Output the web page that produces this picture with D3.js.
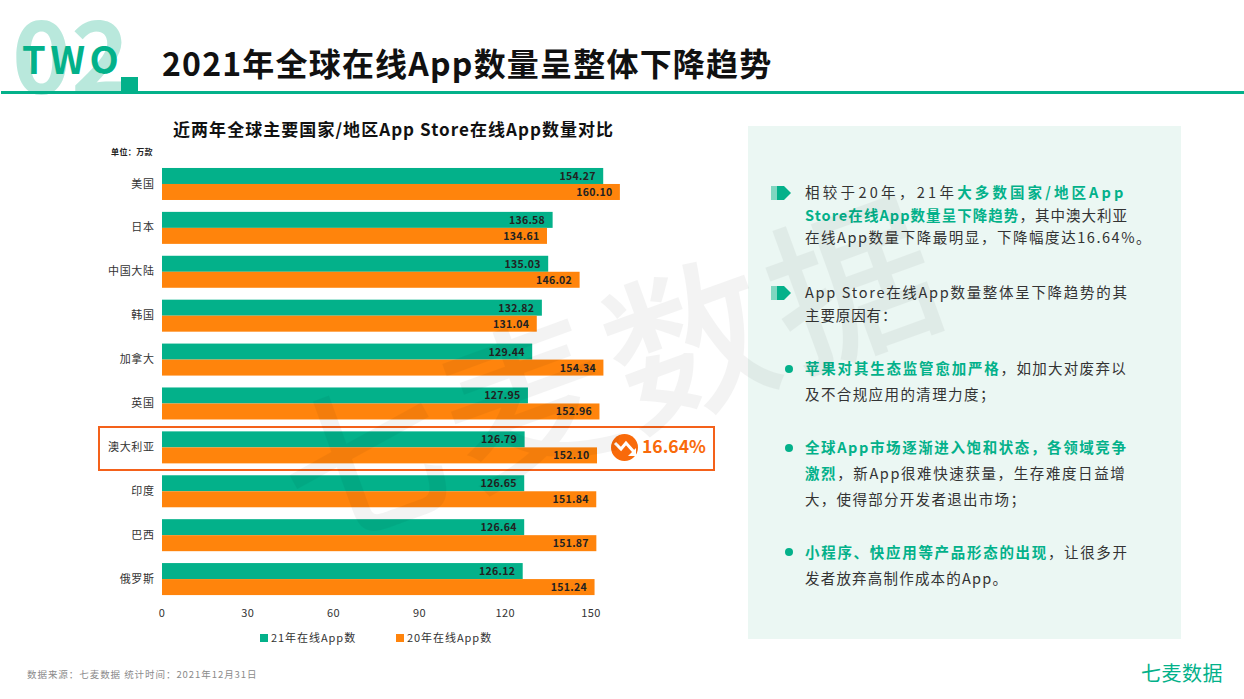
<!DOCTYPE html>
<html><head><meta charset="utf-8">
<script src="https://cdn.jsdelivr.net/npm/d3@7/dist/d3.min.js"></script>
<style>
html,body{margin:0;padding:0;background:#fff;overflow:hidden}
svg{display:block}
text{font-family:"Noto Sans CJK SC","Noto Sans",sans-serif}
</style></head><body>
<svg id="c" width="1244" height="699" xmlns="http://www.w3.org/2000/svg"></svg>
<script>
const categories=["美国","日本","中国大陆","韩国","加拿大","英国","澳大利亚","印度","巴西","俄罗斯"];
const values21=[154.27,136.58,135.03,132.82,129.44,127.95,126.79,126.65,126.64,126.12];
const values20=[160.10,134.61,146.02,131.04,154.34,152.96,152.10,151.84,151.87,151.24];
const xTicks=[0,30,60,90,120,150];
const seriesNames=["21年在线App数","20年在线App数"];
const GREEN="#03b18a",ORANGE="#ff840c",RED="#f4611a";
const svg=d3.select("#c");
const T=(x,y,s,size,fill,weight,ls,anchor)=>svg.append("text").attr("x",x).attr("y",y).text(s)
  .attr("font-size",size).attr("fill",fill).attr("font-weight",weight||400)
  .attr("letter-spacing",ls||0).attr("text-anchor",anchor||"start");

// panel
svg.append("rect").attr("x",748).attr("y",126).attr("width",433).attr("height",513).attr("fill","#ebf7f3");

// header
T(12,94,"02",100,"#b9e8dc",700,0);
T(22,74,"TWO",38,GREEN,700,4.5);
svg.append("rect").attr("x",1).attr("y",91).attr("width",1243).attr("height",3).attr("fill",GREEN);
svg.append("rect").attr("x",121).attr("y",77).attr("width",17).attr("height",15).attr("fill",GREEN);
T(162,76,"2021年全球在线App数量呈整体下降趋势",32,"#111",700,1.2);

// chart
T(173,136,"近两年全球主要国家/地区App Store在线App数量对比",17,"#111",700,1.05);
T(111,155,"单位：万款",8,"#222",700,0.4);

const x=d3.scaleLinear().domain([0,150]).range([162,591]);
const y=d3.scaleBand().domain(categories).range([162.05,601]).paddingInner(0.271).paddingOuter(0.135);
const bh=y.bandwidth()/2;

const g=svg.append("g");
categories.forEach((c,i)=>{
  g.append("rect").attr("x",x(0)).attr("y",y(c)).attr("width",x(values21[i])-x(0)).attr("height",bh).attr("fill",GREEN);
  g.append("rect").attr("x",x(0)).attr("y",y(c)+bh).attr("width",x(values20[i])-x(0)).attr("height",bh).attr("fill",ORANGE);
  T(x(values21[i])-7.5,y(c)+bh/2+4,values21[i].toFixed(2),10.5,"#222",700,0.3,"end");
  T(x(values20[i])-7.5,y(c)+bh*1.5+4,values20[i].toFixed(2),10.5,"#222",700,0.3,"end");
});

const yAxis=svg.append("g").attr("transform","translate(154.5,0)").call(d3.axisLeft(y).tickSize(0).tickPadding(0));
yAxis.select(".domain").remove();
yAxis.selectAll("text").attr("font-size",11).attr("fill","#333").attr("letter-spacing",0.6).style("font-family",'"Noto Sans CJK SC"');
const xAxis=svg.append("g").attr("transform","translate(0,609)").call(d3.axisBottom(x).tickValues(xTicks).tickSize(0).tickPadding(0));
xAxis.select(".domain").remove();
xAxis.selectAll("text").attr("font-size",11).attr("fill","#333").attr("letter-spacing",0.4).style("font-family",'"Noto Sans CJK SC"').attr("transform","translate(-0.5,0)");

// legend
[[260,seriesNames[0],GREEN],[396,seriesNames[1],ORANGE]].forEach(([lx,s,col])=>{
  svg.append("rect").attr("x",lx).attr("y",634).attr("width",8).attr("height",8).attr("fill",col);
  T(lx+11,642,s,11,"#333",400,0.95);
});

// highlight
svg.append("rect").attr("x",99).attr("y",427).attr("width",615).attr("height",43).attr("fill","none").attr("stroke",RED).attr("stroke-width",2);
svg.append("circle").attr("cx",624.5).attr("cy",447.5).attr("r",13.5).attr("fill","#f96a0a");
svg.append("path").attr("d","M615 443 L621 449 L626 443 L634 452").attr("fill","none").attr("stroke","#fff").attr("stroke-width",3);
svg.append("path").attr("d","M628 456 L636 456 L636 448 Z").attr("fill","#fff");
T(642,453,"16.64%",17.5,"#f96a0a",700,0);

// bullets
const bullet=(bx,by)=>{
  svg.append("rect").attr("x",bx).attr("y",by-7).attr("width",6).attr("height",14).attr("fill","#7fd6c0");
  svg.append("path").attr("d",`M${bx+6} ${by-7} H${bx+13} L${bx+20} ${by} L${bx+13} ${by+7} H${bx+6} Z`).attr("fill",GREEN);
};
const rich=(lx,ly,parts,size)=>{
  const t=svg.append("text").attr("x",lx).attr("y",ly).attr("font-size",size||14.5);
  parts.forEach(([s,b,ls])=>t.append("tspan").text(s).attr("letter-spacing",ls||0)
     .attr("fill",b?GREEN:"#333").attr("font-weight",b?700:400));
};
bullet(771,193);
rich(805,198,[["相较于20年，21年",0,3.3],["大多数国家/地区App",1,3.1]]);
rich(805,221,[["Store在线App数量呈下降趋势",1,1.05],["，其中澳大利亚",0,1.0]]);
rich(805,243,[["在线App数量下降最明显，下降幅度达16.64%。",0,1.55]]);
bullet(771,293);
rich(805,298,[["App Store在线App数量整体呈下降趋势的其",0,1.7]]);
rich(805,321,[["主要原因有：",0,0.9]]);
[369,448,552].forEach(cy=>svg.append("circle").attr("cx",789).attr("cy",cy).attr("r",4).attr("fill",GREEN));
rich(805,374,[["苹果对其生态监管愈加严格",1,1.8],["，如加大对废弃以",0,1.3]]);
rich(805,400,[["及不合规应用的清理力度；",0,1.4]]);
rich(805,453,[["全球App市场逐渐进入饱和状态，各领域竞争",1,1.6]]);
rich(805,479,[["激烈",1,1.6],["，新App很难快速获量，生存难度日益增",0,1.6]]);
rich(805,505,[["大，使得部分开发者退出市场；",0,1.3]]);
rich(805,558,[["小程序、快应用等产品形态的出现",1,1.7],["，让很多开",0,1.6]]);
rich(805,584,[["发者放弃高制作成本的App。",0,1.2]]);

// footer
T(27,678,"数据来源：七麦数据  统计时间：2021年12月31日",9.5,"#8a8a8a",400,0.95);
T(1141,681,"七麦数据",20,GREEN,400,0.5);

// watermark
svg.append("text").attr("transform","translate(308,548) rotate(-20)").text("七麦数据")
  .attr("font-size",165).attr("font-weight",500).attr("letter-spacing",8).attr("fill","#000").attr("opacity",0.045);
</script>
</body></html>
